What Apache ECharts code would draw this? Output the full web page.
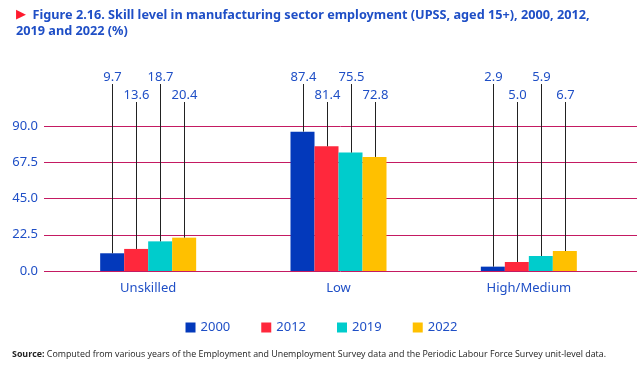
<!DOCTYPE html>
<html><head><meta charset="utf-8">
<script src="https://cdn.jsdelivr.net/npm/echarts@6/dist/echarts.min.js"></script>
<style>html,body{margin:0;padding:0;background:#fff}#c{width:643px;height:366px}</style>
</head><body><div id="c"></div>
<script>
const categories = ['Unskilled', 'Low', 'High/Medium'];
const years = ['2000', '2012', '2019', '2022'];
// bar heights as drawn in the reference
const bars2000 = [11.0, 86.5, 2.7];
const bars2012 = [13.7, 77.4, 5.6];
const bars2019 = [18.4, 73.5, 9.3];
const bars2022 = [20.7, 70.8, 12.4];
// printed value labels
const labels2000 = ['9.7', '87.4', '2.9'];
const labels2012 = ['13.6', '81.4', '5.0'];
const labels2019 = ['18.7', '75.5', '5.9'];
const labels2022 = ['20.4', '72.8', '6.7'];
const yTicks = [0, 22.5, 45, 67.5, 90];

const barData = [bars2000, bars2012, bars2019, bars2022];
const labelData = [labels2000, labels2012, labels2019, labels2022];
const colors = ['#0339bb', '#ff283c', '#00cccc', '#ffc000'];
const blue = '#1f4fc6';
const BW = 24;

const sourceBold = 'Source:';
const sourceText = ' Computed from various years of the Employment and Unemployment Survey data and the Periodic Labour Force Survey unit-level data.';
// fit source line to its width in the reference
const cv = document.createElement('canvas').getContext('2d');
cv.font = 'bold 8.5px "Open Sans"';
let sw = cv.measureText(sourceBold).width;
cv.font = '8.5px "Open Sans"';
sw += cv.measureText(sourceText).width;
const srcScale = 594 / sw;

const chart = echarts.init(document.getElementById('c'), null, {renderer: 'canvas'});
const series = [];
years.forEach((y, s) => {
  series.push({
    name: y, type: 'bar', xAxisIndex: 1, yAxisIndex: 1,
    barWidth: BW, barGap: '0%', data: barData[s],
    itemStyle: {color: colors[s]}, z: 3
  });
});
years.forEach((y, s) => {
  series.push({
    name: 'lbl' + y, type: 'custom', xAxisIndex: 1, yAxisIndex: 1, z: 4,
    data: barData[s].map((v, i) => [i, v]),
    renderItem: function (params, api) {
      const p = api.coord([api.value(0), api.value(1)]);
      const x = Math.round(p[0] + (s - 1.5) * BW) + 0.5;
      const ly = (s % 2 === 0) ? 76 : 94;
      return {
        type: 'group',
        children: [
          {type: 'line', shape: {x1: x, y1: ly + 8, x2: x, y2: p[1]},
           style: {stroke: '#222', lineWidth: 1}},
          {type: 'text', style: {x: x, y: ly + 1, text: labelData[s][params.dataIndex],
           fill: blue, font: '13px "Noto Sans"', textAlign: 'center', textVerticalAlign: 'middle'}}
        ]
      };
    }
  });
});

chart.setOption({
  animation: false,
  title: {
    left: 11, top: 2,
    text: '{t|▶}{b|  Figure 2.16. Skill level in manufacturing sector employment (UPSS, aged 15+), 2000, 2012,}\n{b|2019 and 2022 (%)}',
    textStyle: {
      rich: {
        t: {color: '#ff1a2e', fontSize: 13, fontFamily: 'DejaVu Sans', lineHeight: 16},
        b: {color: blue, fontSize: 12.7, fontWeight: 'bold', fontFamily: 'Noto Sans', lineHeight: 16}
      }
    }
  },
  graphic: [{
    type: 'text', left: 12, top: 350, scaleX: srcScale,
    style: {
      text: '{s|' + sourceBold + '}{n|' + sourceText + '}',
      rich: {
        s: {fontWeight: 'bold', fontSize: 8.5, fontFamily: 'Open Sans', fill: '#222'},
        n: {fontSize: 8.5, fontFamily: 'Open Sans', fill: '#222'}
      }
    }
  }],
  legend: {
    data: years, top: 316, left: 'center', icon: 'rect',
    itemWidth: 10, itemHeight: 10, itemGap: 31,
    textStyle: {color: blue, fontSize: 13, fontFamily: 'Noto Sans'}
  },
  grid: [
    {left: 44, right: 6, top: 126, bottom: 95},
    {left: 53, right: 19, top: 126, bottom: 95}
  ],
  xAxis: [
    {gridIndex: 0, type: 'category', data: categories, show: false},
    {gridIndex: 1, type: 'category', data: categories,
     axisLine: {show: false}, axisTick: {show: false},
     axisLabel: {color: blue, fontSize: 13, fontFamily: 'Noto Sans', margin: 11}}
  ],
  yAxis: [
    {gridIndex: 0, type: 'value', min: 0, max: 90, interval: 22.5,
     axisLine: {show: false}, axisTick: {show: false},
     axisLabel: {color: blue, fontSize: 13, fontFamily: 'Noto Sans', margin: 6,
       formatter: v => yTicks.indexOf(v) >= 0 ? v.toFixed(1) : ''},
     splitLine: {lineStyle: {color: '#c41a62', width: 1}}},
    {gridIndex: 1, type: 'value', min: 0, max: 90, interval: 22.5, show: false,
     splitLine: {show: false}}
  ],
  series: series
});
</script></body></html>
